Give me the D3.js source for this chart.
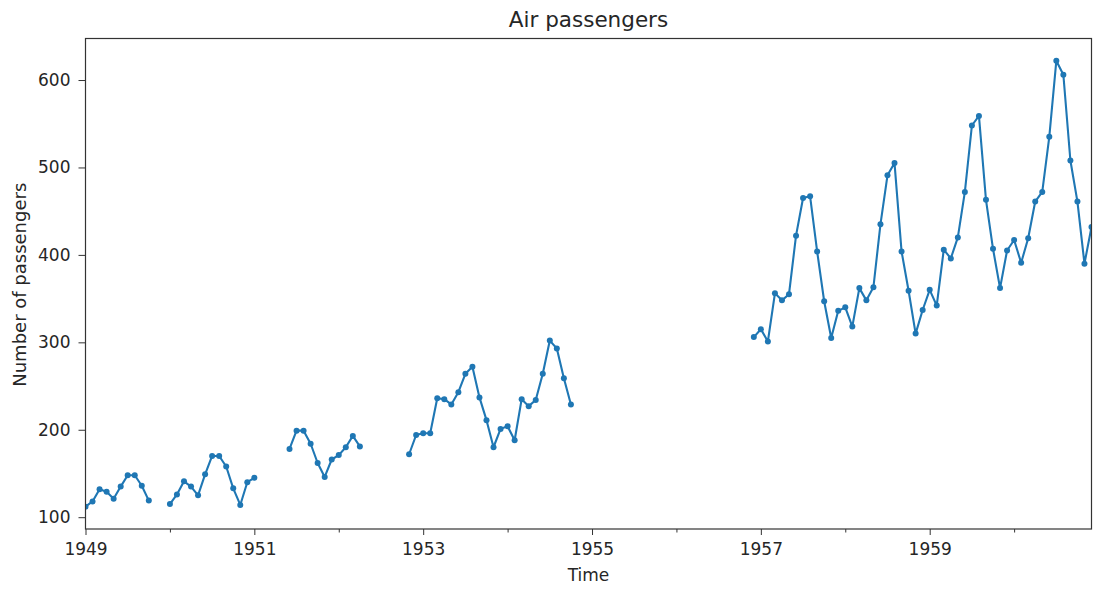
<!DOCTYPE html>
<html>
<head>
<meta charset="utf-8">
<script src="https://cdn.jsdelivr.net/npm/d3@7"></script>
<style>
  html, body { margin: 0; padding: 0; background: #fff; }
  svg { display: block; }
  text { font-family: "DejaVu Sans", sans-serif; fill: #262626; }
</style>
</head>
<body>
<svg id="chart" width="1102" height="589"></svg>
<script>
// ---- data (monthly, null = missing) ----
const years = [1949, 1950, 1951, 1952, 1953, 1954, 1955, 1956, 1957, 1958, 1959, 1960];
const p1949 = [112, 118, 132, 129, 121, 135, 148, 148, 136, 119, null, null];
const p1950 = [115, 126, 141, 135, 125, 149, 170, 170, 158, 133, 114, 140];
const p1951 = [145, null, null, null, null, 178, 199, 199, 184, 162, 146, 166];
const p1952 = [171, 180, 193, 181, null, null, null, null, null, null, 172, 194];
const p1953 = [196, 196, 236, 235, 229, 243, 264, 272, 237, 211, 180, 201];
const p1954 = [204, 188, 235, 227, 234, 264, 302, 293, 259, 229, null, null];
const p1955 = [null, null, null, null, null, null, null, null, null, null, null, null];
const p1956 = [null, null, null, null, null, null, null, null, null, null, null, 306];
const p1957 = [315, 301, 356, 348, 355, 422, 465, 467, 404, 347, 305, 336];
const p1958 = [340, 318, 362, 348, 363, 435, 491, 505, 404, 359, 310, 337];
const p1959 = [360, 342, 406, 396, 420, 472, 548, 559, 463, 407, 362, 405];
const p1960 = [417, 391, 419, 461, 472, 535, 622, 606, 508, 461, 390, 432];
const passengersByYear = [p1949, p1950, p1951, p1952, p1953, p1954, p1955, p1956, p1957, p1958, p1959, p1960];
const xTickYears = [1949, 1951, 1953, 1955, 1957, 1959];
const xMinorYears = [1950, 1952, 1954, 1956, 1958, 1960];
const yTicks = [100, 200, 300, 400, 500, 600];

// monthly series, x = fractional year
const series = [];
years.forEach((y, i) => passengersByYear[i].forEach((v, m) => series.push({ t: y + m / 12, v: v })));

// ---- layout ----
const margin = { left: 85.5, right: 1091.5, top: 38.5, bottom: 529 };
const svg = d3.select("#chart");

const present = series.filter(d => d.v != null).map(d => d.v);
const vmin = d3.min(present), vmax = d3.max(present);
const pad = (vmax - vmin) * 0.05;

const x = d3.scaleLinear()
  .domain([series[0].t, series[series.length - 1].t])
  .range([margin.left, margin.right]);
const y = d3.scaleLinear()
  .domain([vmin - pad, vmax + pad])
  .range([margin.bottom, margin.top]);

svg.append("defs").append("clipPath").attr("id", "plotclip")
  .append("rect")
  .attr("x", margin.left).attr("y", margin.top)
  .attr("width", margin.right - margin.left)
  .attr("height", margin.bottom - margin.top);

const color = "#1f77b4";
const g = svg.append("g").attr("clip-path", "url(#plotclip)");

const line = d3.line()
  .defined(d => d.v != null)
  .x(d => x(d.t))
  .y(d => y(d.v));

g.append("path")
  .datum(series)
  .attr("fill", "none")
  .attr("stroke", color)
  .attr("stroke-width", 2.1)
  .attr("stroke-linejoin", "round")
  .attr("d", line);

g.selectAll("circle.pt")
  .data(series.filter(d => d.v != null))
  .join("circle")
  .attr("class", "pt")
  .attr("cx", d => x(d.t))
  .attr("cy", d => y(d.v))
  .attr("r", 3)
  .attr("fill", color);

// ---- axes ----
const xAxis = d3.axisBottom(x)
  .tickValues(xTickYears)
  .tickFormat(d3.format("d"))
  .tickSize(6)
  .tickPadding(7.5);
const xg = svg.append("g")
  .attr("transform", `translate(0,${margin.bottom})`)
  .call(xAxis);
xg.select(".domain").remove();
xg.selectAll("line").attr("stroke", "#333").attr("stroke-width", 1);
xg.selectAll("text").attr("font-size", 17).attr("font-family", "DejaVu Sans").attr("fill", "#262626");

const xMinor = d3.axisBottom(x).tickValues(xMinorYears.filter(v => x(v) <= margin.right)).tickFormat("").tickSize(3.5);
const xmg = svg.append("g").attr("transform", `translate(0,${margin.bottom})`).call(xMinor);
xmg.select(".domain").remove();
xmg.selectAll("line").attr("stroke", "#333").attr("stroke-width", 1);

const yAxis = d3.axisLeft(y)
  .tickValues(yTicks)
  .tickFormat(d3.format("d"))
  .tickSize(7)
  .tickPadding(8);
const yg = svg.append("g")
  .attr("transform", `translate(${margin.left},0)`)
  .call(yAxis);
yg.select(".domain").remove();
yg.selectAll("line").attr("stroke", "#333").attr("stroke-width", 1);
yg.selectAll("text").attr("font-size", 17).attr("font-family", "DejaVu Sans").attr("fill", "#262626");

// frame
svg.append("rect")
  .attr("x", margin.left).attr("y", margin.top)
  .attr("width", margin.right - margin.left)
  .attr("height", margin.bottom - margin.top)
  .attr("fill", "none")
  .attr("stroke", "#333")
  .attr("stroke-width", 1.2);

// ---- labels ----
svg.append("text")
  .attr("x", (margin.left + margin.right) / 2)
  .attr("y", 27)
  .attr("text-anchor", "middle")
  .attr("font-size", 21.5)
  .text("Air passengers");

svg.append("text")
  .attr("x", (margin.left + margin.right) / 2)
  .attr("y", 581)
  .attr("text-anchor", "middle")
  .attr("font-size", 17)
  .text("Time");

svg.append("text")
  .attr("transform", `translate(26,${(margin.top + margin.bottom) / 2 + 1}) rotate(-90)`)
  .attr("text-anchor", "middle")
  .attr("font-size", 18)
  .text("Number of passengers");
</script>
</body>
</html>
